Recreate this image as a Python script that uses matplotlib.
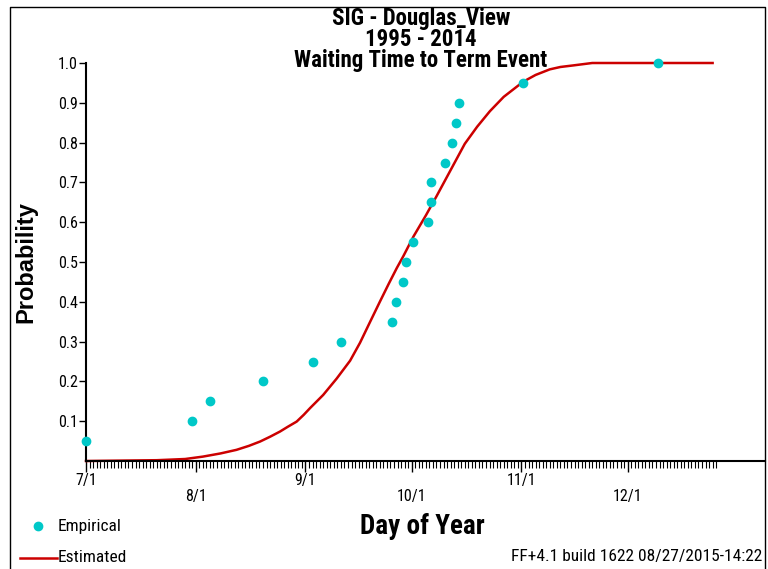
import matplotlib.pyplot as plt
from matplotlib.lines import Line2D
from matplotlib import font_manager

# days counted from July 1
emp_day = [0, 30, 35, 50, 64, 72, 86.5, 87.5, 89.5, 90.5, 92.5,
           96.5, 97.5, 97.5, 101.5, 103.5, 104.5, 105.5, 123.5, 161.5]
emp_prob = [0.05, 0.10, 0.15, 0.20, 0.25, 0.30, 0.35, 0.40, 0.45, 0.50, 0.55,
            0.60, 0.65, 0.70, 0.75, 0.80, 0.85, 0.90, 0.95, 1.00]

est_day = [0, 20, 28, 33, 38, 42.5, 46, 49.2, 52, 54.8, 57, 59.5, 61.5, 63.3,
           67, 70.8, 74.6, 77.4, 80, 83, 85.5, 87.8, 89.6, 92.5, 96, 99, 103,
           107, 110.5, 114.1, 118, 123.5, 127, 131, 134, 137.7, 143, 177]
est_prob = [0.0, 0.002, 0.005, 0.011, 0.019, 0.028, 0.038, 0.049, 0.061, 0.074,
            0.086, 0.099, 0.116, 0.133, 0.166, 0.207, 0.252, 0.297, 0.345, 0.400,
            0.445, 0.485, 0.514, 0.564, 0.617, 0.665, 0.731, 0.797, 0.840, 0.879,
            0.915, 0.953, 0.970, 0.984, 0.990, 0.994, 1.0, 1.0]

month_day = [0, 31, 62, 92, 123, 153]
month_lab = ['7/1', '8/1', '9/1', '10/1', '11/1', '12/1']

names = {f.name for f in font_manager.fontManager.ttflist}
narrow = 'Liberation Sans'
for cand in ['Liberation Sans Narrow', 'Arial Narrow', 'Roboto Condensed',
             'Open Sans Condensed', 'DejaVu Sans Condensed', 'Noto Sans Condensed']:
    if cand in names:
        narrow = cand
        break
cond = narrow != 'Liberation Sans'

cyan = '#00C8C8'
red = '#CC0000'

fig = plt.figure(figsize=(7.68, 5.69), dpi=100)
ax = fig.add_axes([86 / 768, 1 - 461 / 569, (765 - 86) / 768, (461 - 63) / 569])

ax.plot(est_day, est_prob, color=red, lw=1.8, zorder=2, clip_on=False)
ax.plot(emp_day, emp_prob, 'o', color=cyan, ms=6, zorder=3, clip_on=False)

ax.set_xlim(0, 191.8)
ax.set_ylim(0, 1)
for s in ['top', 'right']:
    ax.spines[s].set_visible(False)
ax.spines['left'].set_linewidth(1.5)
ax.spines['bottom'].set_linewidth(1.5)

tick_fs = 11.5 if cond else 9.5
ax.set_yticks([i / 10 for i in range(1, 11)])
ax.set_yticklabels(['%.1f' % (i / 10) for i in range(1, 11)],
                   fontsize=tick_fs, family=narrow)
ax.tick_params(axis='y', length=5, width=1, pad=1)

ax.set_xticks(month_day)
ax.set_xticklabels([])
ax.set_xticks(range(0, 179), minor=True)
ax.tick_params(axis='x', which='major', length=8, width=1)
ax.tick_params(axis='x', which='minor', length=5, width=0.8)
for i, (d, lab) in enumerate(zip(month_day, month_lab)):
    y = -0.05 if i % 2 == 0 else -0.09
    ax.text(d, y, lab, transform=ax.get_xaxis_transform(), ha='center',
            va='center', fontsize=tick_fs, family=narrow)

ax.set_ylabel('Probability', fontsize=17, fontweight='bold',
              family=['Liberation Sans', 'DejaVu Sans'])
ax.yaxis.set_label_coords(-0.072, 0.5)

fig.text(422 / 768, 1 - 527 / 569, 'Day of Year', ha='center', va='center',
         fontsize=19.5 if cond else 16, fontweight='bold', family=narrow)

title_fs = 16.5 if cond else 14.5
for txt, ypx in [('SIG - Douglas_View', 18), ('1995 - 2014', 40),
                 ('Waiting Time to Term Event', 61)]:
    fig.text(421 / 768, 1 - ypx / 569, txt, ha='center', va='center',
             fontsize=title_fs, fontweight='bold', family=narrow, zorder=5)

# legend
leg_fs = 12.5 if cond else 10.5
fig.lines.append(Line2D([38 / 768], [1 - 526 / 569], marker='o', color=cyan,
                        ms=6, transform=fig.transFigure))
fig.text(58 / 768, 1 - 526 / 569, 'Empirical', va='center', fontsize=leg_fs, family=narrow)
fig.lines.append(Line2D([20 / 768, 57 / 768], [1 - 558 / 569] * 2, color=red,
                        lw=1.8, transform=fig.transFigure))
fig.text(58 / 768, 1 - 558 / 569, 'Estimated', va='center', fontsize=leg_fs, family=narrow)

fig.text(762 / 768, 1 - 557 / 569, 'FF+4.1 build 1622 08/27/2015-14:22',
         ha='right', va='center', fontsize=12.5 if cond else 10, family=narrow)

# outer frame
fig.lines.append(Line2D([10 / 768, 10 / 768, 765 / 768, 765 / 768],
                        [0, 1 - 7 / 569, 1 - 7 / 569, 0], color='black',
                        lw=1, transform=fig.transFigure))

fig.savefig('out.png', dpi=100)
